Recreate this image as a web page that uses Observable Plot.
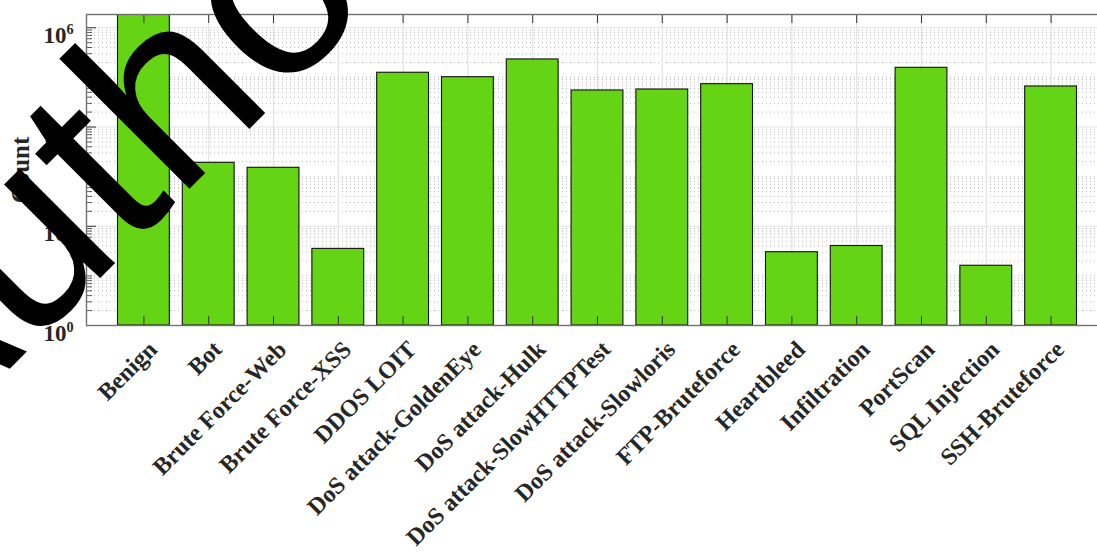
<!DOCTYPE html>
<html>
<head>
<meta charset="utf-8">
<script src="https://cdn.jsdelivr.net/npm/d3@7"></script>
<script src="https://cdn.jsdelivr.net/npm/@observablehq/plot@0.6"></script>
<style>
  html, body { margin: 0; padding: 0; background: #fff; overflow: hidden; }
  #chart { width: 1097px; height: 557px; overflow: hidden; }
  #chart svg { max-width: none !important; }
</style>
</head>
<body>
<div id="chart"></div>
<script>
// Class counts per traffic label (log scale)
const categories = [
  "Benign", "Bot", "Brute Force-Web", "Brute Force-XSS", "DDOS LOIT",
  "DoS attack-GoldenEye", "DoS attack-Hulk", "DoS attack-SlowHTTPTest",
  "DoS attack-Slowloris", "FTP-Bruteforce", "Heartbleed", "Infiltration",
  "PortScan", "SQL Injection", "SSH-Bruteforce"
];
const counts = [
  2270000, 1900, 1507, 35, 124000,
  101000, 230000, 54500,
  57000, 73000, 30, 40,
  156000, 16, 65600
];
const yTickExponents = [0, 2, 4, 6];
const yLabel = "Count";
const watermark = "Author";

const data = categories.map((category, i) => ({category, count: counts[i]}));

// Gridline levels: labelled decades solid, all other 1..9 x 10^k dotted
const yMax = 1.85e6;
const majorTicks = yTickExponents.map(e => 10 ** e);
const minorTicks = [];
for (let k = 0; k <= 6; k++) {
  for (let d = 1; d <= 9; d++) {
    const v = d * 10 ** k;
    if (v <= yMax && !majorTicks.includes(v)) minorTicks.push(v);
  }
}

const W = 1108, H = 557;
const mTop = 14, mBottom = 232, mLeft = 86, mRight = 0;
const frameH = H - mTop - mBottom;
const frameW = W - mLeft - mRight;
const axisColor = "#262626";

const chart = Plot.plot({
  width: W,
  height: H,
  marginTop: mTop,
  marginBottom: mBottom,
  marginLeft: mLeft,
  marginRight: mRight,
  style: {
    fontFamily: "'Liberation Serif', 'Times New Roman', serif",
    background: "#fff",
    color: axisColor,
    overflow: "hidden",
    maxWidth: "none"
  },
  x: {domain: categories, paddingInner: 0.2, paddingOuter: 0.486, round: false, axis: null},
  y: {type: "log", domain: [1, yMax], axis: null},
  marks: [
    // grid
    Plot.ruleY(minorTicks, {stroke: "#b8b8b8", strokeWidth: 1, strokeDasharray: "1,3"}),
    Plot.ruleY(majorTicks, {stroke: "#e2e2e2", strokeWidth: 1.2}),
    Plot.ruleX(categories, {x: d => d, stroke: "#e2e2e2", strokeWidth: 1.2}),
    // bars
    Plot.barY(data, {
      x: "category", y1: 1, y2: "count",
      fill: "#64d414", stroke: "#111", strokeWidth: 1.1, clip: true
    }),
    // inward ticks on bottom and top edges
    Plot.ruleX(categories, {x: d => d, insetTop: frameH - 9, stroke: "#333", strokeWidth: 1}),
    Plot.ruleX(categories, {x: d => d, insetBottom: frameH - 9, stroke: "#333", strokeWidth: 1}),
    // inward ticks on left edge
    Plot.ruleY(majorTicks, {insetRight: frameW - 10, stroke: "#333", strokeWidth: 1}),
    Plot.ruleY(minorTicks, {insetRight: frameW - 6, stroke: "#333", strokeWidth: 0.8}),
    Plot.frame({stroke: "#707070", strokeWidth: 1.4}),
    // y tick labels (exponent added as superscript below)
    Plot.axisY(majorTicks, {
      label: null,
      tickSize: 0, tickPadding: 13,
      tickFormat: d => "10^" + Math.round(Math.log10(d)),
      fontSize: 23, fontWeight: "bold", lineAnchor: "bottom", dy: 15,
      fill: axisColor
    }),
    // x tick labels
    Plot.text(categories, {
      x: d => d, frameAnchor: "bottom", text: d => d,
      rotate: -45, textAnchor: "end", lineAnchor: "middle",
      dy: 20, dx: 9, fontSize: 24, fontWeight: "bold", fill: axisColor
    }),
    // y axis title
    Plot.text([yLabel], {
      frameAnchor: "left", text: d => d, rotate: -90,
      textAnchor: "middle", lineAnchor: "middle",
      dx: -66, fontSize: 25, fontWeight: "bold", fill: axisColor
    })
  ]
});
chart.style.maxWidth = "none";

// Turn "10^e" tick labels into 10 with a raised exponent
d3.select(chart).selectAll('g[aria-label="y-axis tick label"] text').each(function () {
  const parts = this.textContent.split("^");
  if (parts.length !== 2) return;
  const t = d3.select(this);
  t.text(parts[0]);
  t.append("tspan").attr("font-size", "0.62em").attr("dy", "-0.62em").text(parts[1]);
});

// Large overlaid word across the upper left
d3.select(chart).append("text")
  .attr("transform", "translate(-92.5,470.9) rotate(-45)")
  .attr("text-anchor", "start")
  .attr("font-family", "'Liberation Sans', Arial, sans-serif")
  .attr("font-size", 254)
  .attr("fill", "#000")
  .text(watermark);

document.getElementById("chart").appendChild(chart);
</script>
</body>
</html>
